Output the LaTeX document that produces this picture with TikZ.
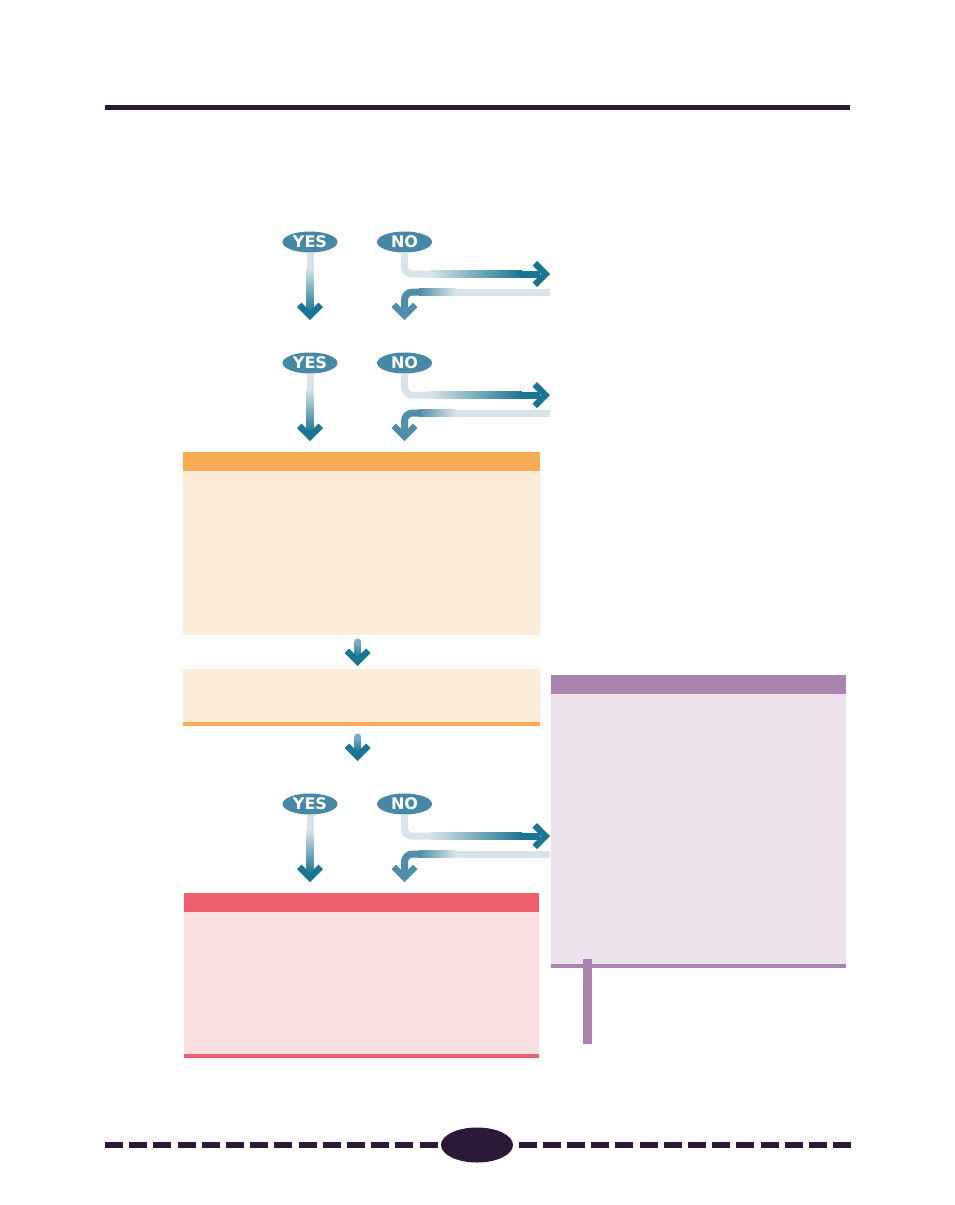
\documentclass[tikz,border=0pt]{standalone}
\usepackage{fontspec}
\newfontfamily\pillfont{DejaVu Sans}
\usetikzlibrary{shapes.geometric,calc}
\definecolor{tealE}{HTML}{4789A5}
\definecolor{tealD}{HTML}{1A7592}
\definecolor{tealL}{HTML}{D8E4E9}
\definecolor{tealM}{HTML}{4F8DA8}
\definecolor{dk}{HTML}{2D1838}
\definecolor{orH}{HTML}{F8AB55}
\definecolor{orB}{HTML}{FDECD8}
\definecolor{puH}{HTML}{A984AD}
\definecolor{puB}{HTML}{EDE2EC}
\definecolor{reH}{HTML}{EF5F70}
\definecolor{reB}{HTML}{F9DFE0}
\tikzset{
  pill/.style={ellipse, fill=tealE, text=white, minimum width=55pt, minimum height=21pt, inner sep=0pt,
    font=\pillfont\bfseries\fontsize{16}{16}\selectfont},
  boxnode/.style={anchor=north west, inner sep=0pt, outer sep=0pt, draw=none}
}
\newcommand\hdown[2]{\fill[#2] (#1) -- ++(-13,-13) -- ++(4.5,-4.5) -- ++(8.5,8.5) -- ++(8.5,-8.5) -- ++(4.5,4.5) -- cycle;}
\newcommand\hright[2]{\fill[#2] (#1) -- ++(-13,-13) -- ++(-4.5,4.5) -- ++(8.5,8.5) -- ++(-8.5,8.5) -- ++(4.5,4.5) -- cycle;}
\newcommand\yesno[2]{%
  \coordinate (yt#1) at (310,#2+78);
  \coordinate (nr#1) at (550,#2+32);
  \coordinate (nd#1) at (404.5,#2+78);
  \node[pill] (yes#1) at (310,#2) {YES};
  \node[pill] (no#1) at (404.5,#2) {NO};
  % yes arrow
  \fill[tealL] ($(yes#1.south)+(-3.5,0)$) rectangle ($(yes#1.south)+(3.5,16)$);
  \shade[top color=tealL, bottom color=tealD] ($(yes#1.south)+(-3.5,15.5)$) rectangle ($(yt#1)+(3.5,-8)$);
  \hdown{yt#1}{tealD}
  % no arrow (out)
  \draw[tealL, line width=7pt, rounded corners=8pt] (no#1.south) |- ($(no#1.south)+(26,21.5)$);
  \shade[left color=tealL, right color=tealD] (430,#2+28.5) rectangle (522,#2+35.5);
  \fill[tealD] (521.5,#2+28.5) rectangle (540,#2+35.5);
  \hright{nr#1}{tealD}
  % return arrow
  \fill[tealL] (550,#2+46.5) rectangle (455,#2+53.5);
  \shade[left color=tealM, right color=tealL] (419,#2+46.5) rectangle (455.5,#2+53.5);
  \draw[tealM, line width=7pt, rounded corners=8pt] (420,#2+50) -| (404.5,#2+70);
  \hdown{nd#1}{tealM}
}
\newcommand\smallarr[3]{%
  \shade[top color=tealM!75!white, bottom color=tealD] (#1-3.5,#2) rectangle (#1+3.5,#3-8);
  \fill[tealM!75!white] (#1,#2) circle (3.5);
  \hdown{#1,#3}{tealD}
}
\begin{document}
\begin{tikzpicture}[x=1pt,y=-1pt]
\useasboundingbox (0,0) rectangle (954,1205);
\fill[white] (0,0) rectangle (954,1205);
% top rule
\fill[dk] (105,104.5) rectangle (850,110);
% boxes
\node[boxnode, fill=orB, minimum width=357pt, minimum height=183pt] (ob1) at (183,452) {};
\fill[orH] (ob1.north west) rectangle ($(ob1.north east)+(0,19)$);
\node[boxnode, fill=orB, minimum width=357pt, minimum height=57pt] (ob2) at (183,669) {};
\fill[orH] (ob2.south west) rectangle ($(ob2.south east)+(0,-4)$);
\node[boxnode, fill=puB, minimum width=295pt, minimum height=293pt] (pb) at (551,675) {};
\fill[puH] (pb.north west) rectangle ($(pb.north east)+(0,19)$);
\fill[puH] (pb.south west) rectangle ($(pb.south east)+(0,-4)$);
\fill[puH] (583,959) rectangle (592,1044);
\node[boxnode, fill=reB, minimum width=355pt, minimum height=165pt] (rb) at (184,893) {};
\fill[reH] (rb.north west) rectangle ($(rb.north east)+(0,19)$);
\fill[reH] (rb.south west) rectangle ($(rb.south east)+(0,-4)$);
% decision groups
\yesno{1}{242}
\yesno{2}{363}
\yesno{3}{804}
% small arrows
\smallarr{357.7}{642}{666}
\smallarr{357.7}{737}{761}
% bottom dashed rule with page ellipse
\draw[dk, line width=5.5pt, dash pattern=on 18pt off 6.2pt] (105,1145) -- (441,1145);
\draw[dk, line width=5.5pt, dash pattern=on 18pt off 6.2pt] (518.5,1145) -- (852,1145);
\node[ellipse, fill=dk, minimum width=72pt, minimum height=35pt, inner sep=0pt] (page) at (477,1145) {};
\end{tikzpicture}
\end{document}
